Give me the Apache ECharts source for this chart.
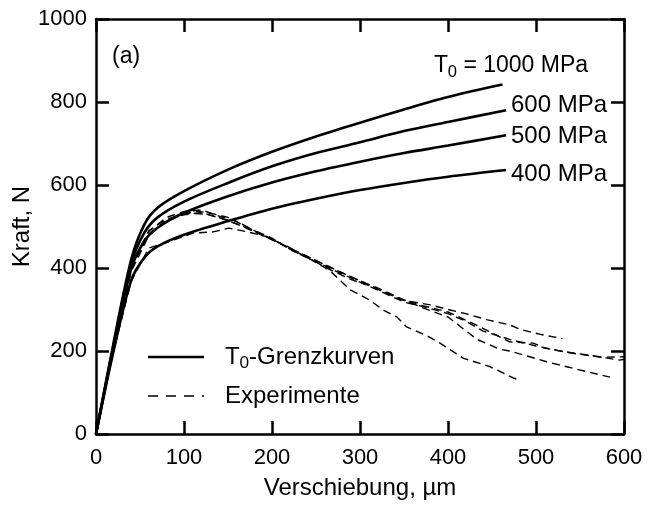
<!DOCTYPE html>
<html>
<head>
<meta charset="utf-8">
<script src="https://cdn.jsdelivr.net/npm/echarts@6/dist/echarts.min.js"></script>
<style>
html,body{margin:0;padding:0;background:#fff;}
#chart{width:648px;height:508px;}
</style>
</head>
<body>
<div id="chart"></div>
<script>
// Grenzkurven T0 (Verschiebung um, Kraft N)
var curve1000 = [[0,0],[20,220],[40,420],[55,505],[70,545],[100,585],[150,637],[200,680],[250,717],[300,750],[350,782],[400,812],[462,842]];
var curve600 = [[0,0],[20,215],[40,410],[55,485],[70,522],[100,560],[150,605],[200,645],[250,677],[300,703],[350,730],[400,752],[466,780]];
var curve500 = [[0,0],[20,210],[40,398],[55,465],[70,497],[100,533],[150,573],[200,606],[250,633],[300,656],[350,677],[400,695],[466,720]];
var curve400 = [[0,0],[20,200],[40,370],[55,425],[70,452],[100,480],[150,513],[200,543],[250,567],[300,588],[350,605],[400,620],[466,636]];

// Experimente (gestrichelt)
var expA = [[0,0],[20,205],[40,392],[60,478],[80,512],[100,530],[115,537],[130,532],[150,522],[175,495],[200,472],[220,445],[245,420],[265,397],[290,372],[310,358],[330,340],[350,322],[380,311],[400,300],[420,290],[445,275],[470,263],[482,252],[505,240],[530,230]];
var expB = [[0,0],[20,210],[40,400],[60,488],[80,522],[100,536],[120,540],[140,525],[160,512],[180,490],[200,470],[225,440],[250,415],[275,390],[300,366],[325,342],[350,318],[375,305],[400,290],[420,272],[440,248],[470,228],[500,212],[530,199],[560,190],[595,178],[600,180]];
var expE = [[0,0],[20,212],[40,405],[60,490],[80,518],[100,528],[120,534],[145,518],[170,498],[195,474],[220,448],[245,423],[270,398],[295,374],[320,350],[345,325],[370,310],[400,294],[430,265],[470,222],[497,219],[510,207],[540,195],[575,185],[600,186]];
var expC = [[0,0],[20,208],[40,395],[60,482],[80,515],[100,532],[125,530],[150,515],[175,492],[200,468],[230,438],[260,408],[290,378],[320,352],[345,328],[370,305],[400,282],[433,228],[459,204],[470,200],[490,188],[512,174],[535,162],[558,150],[584,137]];
var expD = [[0,0],[20,200],[40,368],[60,448],[88,467],[110,484],[133,487],[151,496],[170,488],[190,478],[215,455],[240,425],[265,395],[289,347],[311,323],[326,299],[342,282],[353,258],[375,238],[391,219],[417,183],[448,162],[474,135],[480,131]];

var chart = echarts.init(document.getElementById('chart'));

function solid(name, data){
	return {name:name,type:'line',data:data,smooth:0.3,symbol:'none',silent:true,
		lineStyle:{color:'#000',width:2.6},z:3};
}
function dashed(name, data){
	return {name:name,type:'line',data:data,smooth:false,symbol:'none',silent:true,
		lineStyle:{color:'#000',width:1.4,type:[8,5]},z:2};
}

var fontFam = 'Liberation Sans, Arial, sans-serif';
function txt(x, y, s, size){
	return {type:'text',x:x,y:y,style:{text:s,fontSize:size||24,fontFamily:fontFam,fill:'#000',textVerticalAlign:'middle',verticalAlign:'middle'}};
}
// T mit tiefgestellter 0
function tSub(x, y, rest, size){
	size = size || 24;
	return [txt(x, y, 'T', size), txt(x+size*0.6, y+size*0.28, '0', size*0.72), txt(x+size*1.0, y, rest, size)];
}

var gfx = [
	txt(112, 57, '(a)', 23),
	txt(511, 105, '600 MPa'),
	txt(511, 136, '500 MPa'),
	txt(511, 174, '400 MPa'),
	// Legende
	{type:'line',shape:{x1:148,y1:357,x2:204,y2:357},style:{stroke:'#000',lineWidth:2.6}},
	{type:'line',shape:{x1:148,y1:396,x2:204,y2:396},style:{stroke:'#000',lineWidth:1.4,lineDash:[10,8]}},
	txt(225, 396, 'Experimente')
].concat(tSub(434, 66, ' = 1000 MPa', 23)).concat(tSub(225, 357, '-Grenzkurven'));

function axisBase(){
	return {
		axisLine:{show:true,onZero:false,lineStyle:{color:'#000',width:2.5}},
		axisTick:{show:true,inside:true,length:13,lineStyle:{color:'#000',width:2.5}},
		splitLine:{show:false}
	};
}

var xMain = Object.assign(axisBase(), {
	type:'value',min:0,max:600,interval:100,position:'bottom',
	name:'Verschiebung, \u00b5m',nameLocation:'middle',nameGap:42,nameMoveOverlap:false,
	nameTextStyle:{fontSize:24,fontFamily:fontFam,color:'#000'},
	axisLabel:{fontSize:22,fontFamily:fontFam,color:'#000',margin:13,formatter:function(v){return String(v);}}
});
var xTop = Object.assign(axisBase(), {
	type:'value',min:0,max:600,interval:100,position:'top',axisLabel:{show:false}
});
var yMain = Object.assign(axisBase(), {
	type:'value',min:0,max:1000,interval:200,position:'left',
	name:'Kraft, N',nameLocation:'middle',nameGap:62,nameMoveOverlap:false,
	nameTextStyle:{fontSize:24,fontFamily:fontFam,color:'#000'},
	axisLabel:{fontSize:22,fontFamily:fontFam,color:'#000',margin:9,formatter:function(v){return String(v);}}
});
var yRight = Object.assign(axisBase(), {
	type:'value',min:0,max:1000,interval:200,position:'right',axisLabel:{show:false}
});

var option = {
	animation:false,
	backgroundColor:'#fff',
	grid:{left:96,right:24,top:19,bottom:74,containLabel:false,outerBoundsMode:'none'},
	xAxis:[xMain, xTop],
	yAxis:[yMain, yRight],
	series:[
		solid('1000 MPa',curve1000),
		solid('600 MPa',curve600),
		solid('500 MPa',curve500),
		solid('400 MPa',curve400),
		dashed('Exp A',expA),
		dashed('Exp B',expB),
		dashed('Exp E',expE),
		dashed('Exp C',expC),
		dashed('Exp D',expD)
	],
	graphic:gfx
};
chart.setOption(option);
</script>
</body>
</html>
